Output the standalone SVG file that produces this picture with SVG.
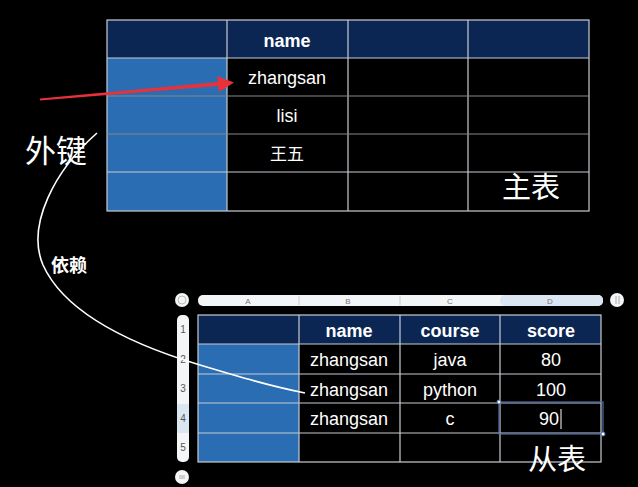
<svg xmlns="http://www.w3.org/2000/svg" width="638" height="487" viewBox="0 0 638 487">
<defs>
<style>
.t{font-family:"Liberation Sans","Noto Sans CJK SC",sans-serif;fill:#fff;text-anchor:middle}
.h{font-weight:bold;font-size:18px}
.c{font-size:18px}
.big{font-family:"Noto Sans CJK SC",sans-serif;fill:#fff}
.hdr{fill:#0b2653}
.key{fill:#2a6db3}
.grid{stroke:#c8ccd2;stroke-width:1.2;fill:none}
.lbl{font-family:"Liberation Sans",sans-serif;font-size:8px;fill:#777;text-anchor:middle}
.num{font-family:"Liberation Sans",sans-serif;font-size:10px;fill:#555;text-anchor:middle}
</style>
</defs>
<rect width="638" height="487" fill="#000"/>

<g id="main-table">
<rect x="107" y="20" width="482" height="38" class="hdr"/>
<rect x="107" y="58" width="120" height="153" class="key"/>
<g class="grid">
<rect x="107" y="20" width="482" height="191"/>
<line x1="227" y1="20" x2="227" y2="211"/>
<line x1="348" y1="20" x2="348" y2="211"/>
<line x1="468" y1="20" x2="468" y2="211"/>
<line x1="107" y1="58" x2="589" y2="58"/>
<line x1="107" y1="96" x2="589" y2="96" stroke="#888"/>
<line x1="107" y1="134" x2="589" y2="134" stroke="#888"/>
<line x1="107" y1="172" x2="589" y2="172"/>
</g>
<text class="t h" x="287" y="47">name</text>
<text class="t c" x="287" y="84">zhangsan</text>
<text class="t c" x="287" y="122">lisi</text>
<text class="t c" x="287" y="160" style="font-family:'Noto Sans CJK SC',sans-serif;font-size:17px">王五</text>
<text class="big" x="502" y="198" font-size="29">主表</text>
</g>

<g id="sub-table">
<rect x="198" y="295" width="405" height="11" rx="5" fill="#f4f5f7"/>
<rect x="500" y="295" width="103" height="11" rx="5" fill="#dbe6f3"/>
<line x1="299" y1="296" x2="299" y2="305" stroke="#ccc"/>
<line x1="400" y1="296" x2="400" y2="305" stroke="#ccc"/>
<text class="lbl" x="248" y="304">A</text>
<text class="lbl" x="348" y="304">B</text>
<text class="lbl" x="450" y="304">C</text>
<text class="lbl" x="550" y="304">D</text>
<circle cx="182" cy="300" r="7" fill="#f4f5f7"/>
<circle cx="182" cy="300" r="4" fill="none" stroke="#bbb" stroke-width="1"/>
<circle cx="617" cy="300" r="7" fill="#f4f5f7"/>
<line x1="616" y1="296" x2="616" y2="304" stroke="#aaa"/>
<line x1="619" y1="296" x2="619" y2="304" stroke="#aaa"/>
<rect x="177" y="315" width="12" height="147" rx="5" fill="#f4f5f7"/>
<rect x="177" y="404" width="12" height="29" fill="#dbe6f3"/>
<text class="num" x="183" y="333">1</text>
<text class="num" x="183" y="363">2</text>
<text class="num" x="183" y="392">3</text>
<text class="num" x="183" y="422" fill="#6a8fc0">4</text>
<text class="num" x="183" y="451">5</text>
<circle cx="182" cy="477" r="7" fill="#f4f5f7"/>
<line x1="179" y1="476" x2="185" y2="476" stroke="#aaa"/>
<line x1="179" y1="478" x2="185" y2="478" stroke="#aaa"/>

<rect x="198" y="315" width="403" height="29" class="hdr"/>
<rect x="198" y="344" width="101" height="118" class="key"/>
<g class="grid" stroke-width="1">
<rect x="198" y="315" width="403" height="147"/>
<line x1="299" y1="315" x2="299" y2="462"/>
<line x1="400" y1="315" x2="400" y2="462"/>
<line x1="500" y1="315" x2="500" y2="462"/>
<line x1="198" y1="344" x2="601" y2="344"/>
<line x1="198" y1="374" x2="601" y2="374"/>
<line x1="198" y1="403" x2="601" y2="403"/>
<line x1="198" y1="433" x2="601" y2="433"/>
</g>
<text class="t h" x="349" y="337">name</text>
<text class="t h" x="450" y="337">course</text>
<text class="t h" x="551" y="337">score</text>
<text class="t c" x="349" y="366">zhangsan</text>
<text class="t c" x="450" y="366">java</text>
<text class="t c" x="551" y="366">80</text>
<text class="t c" x="349" y="396">zhangsan</text>
<text class="t c" x="450" y="396">python</text>
<text class="t c" x="551" y="396">100</text>
<text class="t c" x="349" y="425">zhangsan</text>
<text class="t c" x="450" y="425">c</text>
<text class="t c" x="549" y="425">90</text>
<line x1="561" y1="409" x2="561" y2="429" stroke="#fff" stroke-width="1"/>
<rect x="499" y="402" width="104" height="32" fill="none" stroke="#4a6fa8" stroke-width="1.2"/>
<circle cx="499" cy="402" r="2" fill="#fff" stroke="#4a6fa8"/>
<circle cx="603" cy="434" r="2" fill="#fff" stroke="#4a6fa8"/>
<text class="big" x="528" y="470" font-size="29">从表</text>
</g>

<g id="labels">
<text class="big" x="25" y="162" font-size="31">外键</text>
<text class="big" x="51" y="272" font-size="18" font-weight="bold">依赖</text>
</g>

<g id="connectors">
<path d="M40,98.6 L218,81.9 L217,76 L234,82.5 L219,92 L218,86 L40,100.6 Z" fill="#e8323a"/>
<path d="M97,133 C55,170 26,225 43,265 C68,320 150,350 200,365 C240,377 270,386 305,393" fill="none" stroke="#fff" stroke-width="1.6"/>
</g>
</svg>
